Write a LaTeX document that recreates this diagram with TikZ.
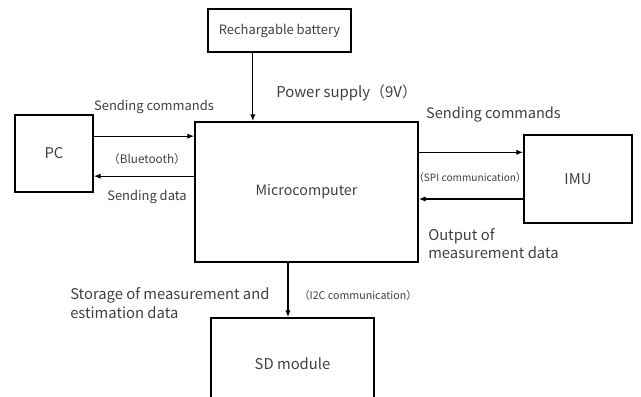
\documentclass[tikz,border=0pt]{standalone}
\usepackage{fontspec}
\setmainfont{Noto Sans CJK JP}
\usetikzlibrary{arrows.meta}

\newcommand{\bigtxt}{\fontsize{11.1}{14}\selectfont}
\newcommand{\midtxt}{\fontsize{9.7}{12}\selectfont}
\newcommand{\smalltxt}{\fontsize{7.6}{10}\selectfont}

\begin{document}
\begin{tikzpicture}[x=0.75pt,y=-0.75pt,
  blk/.style n args={2}{draw,line width=1.5pt,inner sep=0pt,text=black!75,minimum width=#1,minimum height=#2},
  arr/.style={-{Latex[length=5pt,width=4pt]},line width=0.8pt},
  lbl/.style={text=black!75,inner sep=0pt}]
\useasboundingbox (0,0) rectangle (641,396);

% blocks
\node[blk={107.25pt}{32.25pt},font=\midtxt] (bat) at (279.5,30.5) {Rechargable battery};
\node[blk={167.25pt}{105pt},font=\fontsize{10.7}{13}\selectfont] (mc) at (306.5,192) {Microcomputer};
\node[blk={58.5pt}{57.75pt},font=\bigtxt] (pc) at (54,153.5) {PC};
\node[blk={81pt}{66pt},font=\bigtxt] (imu) at (578,179) {IMU};
\node[blk={122.25pt}{69pt},font=\bigtxt] (sd) at (292.5,364) {SD module};

% connectors
\draw[arr] ([xshift=-20pt]bat.south) -- ([xshift=-20pt]bat.south |- mc.north);
\draw[arr] ([yshift=13pt]pc.east) -- ([yshift=13pt]pc.east -| mc.west);
\draw[arr] ([yshift=-17pt]pc.east -| mc.west) -- ([yshift=-17pt]pc.east);
\draw[arr] ([yshift=20pt]imu.west -| mc.east) -- ([yshift=20pt]imu.west);
\draw[arr] ([yshift=-15pt]imu.west) -- ([yshift=-15pt]imu.west -| mc.east);
\draw[arr] ([xshift=-3.4pt]sd.north |- mc.south) -- ([xshift=-3.4pt]sd.north);

% labels
\node[lbl,font=\midtxt] (pccmd) at (154,107) {Sending commands};
\node[lbl,font=\fontsize{8.8}{10}\selectfont] (bt) at (147,159) {（Bluetooth）};
\node[lbl,font=\midtxt] (pcdata) at (147,197) {Sending data};
\node[lbl,font=\fontsize{11.2}{14}\selectfont,anchor=west] (pwr) at (276,93) {Power supply（9V）};
\node[lbl,font=\fontsize{10.9}{14}\selectfont] (imucmd) at (493.5,115) {Sending commands};
\node[lbl,font=\smalltxt] (spi) at (470,178) {（SPI communication）};
\node[lbl,font=\bigtxt,anchor=west,align=left] (imuout) at (428,243.5) {Output of\\measurement data};
\node[lbl,font=\fontsize{8}{10}\selectfont] (i2c) at (358,295) {（I2C communication）};
\node[lbl,font=\bigtxt,anchor=west,align=left] (store) at (70,303) {Storage of measurement and\\estimation data};
\end{tikzpicture}
\end{document}
